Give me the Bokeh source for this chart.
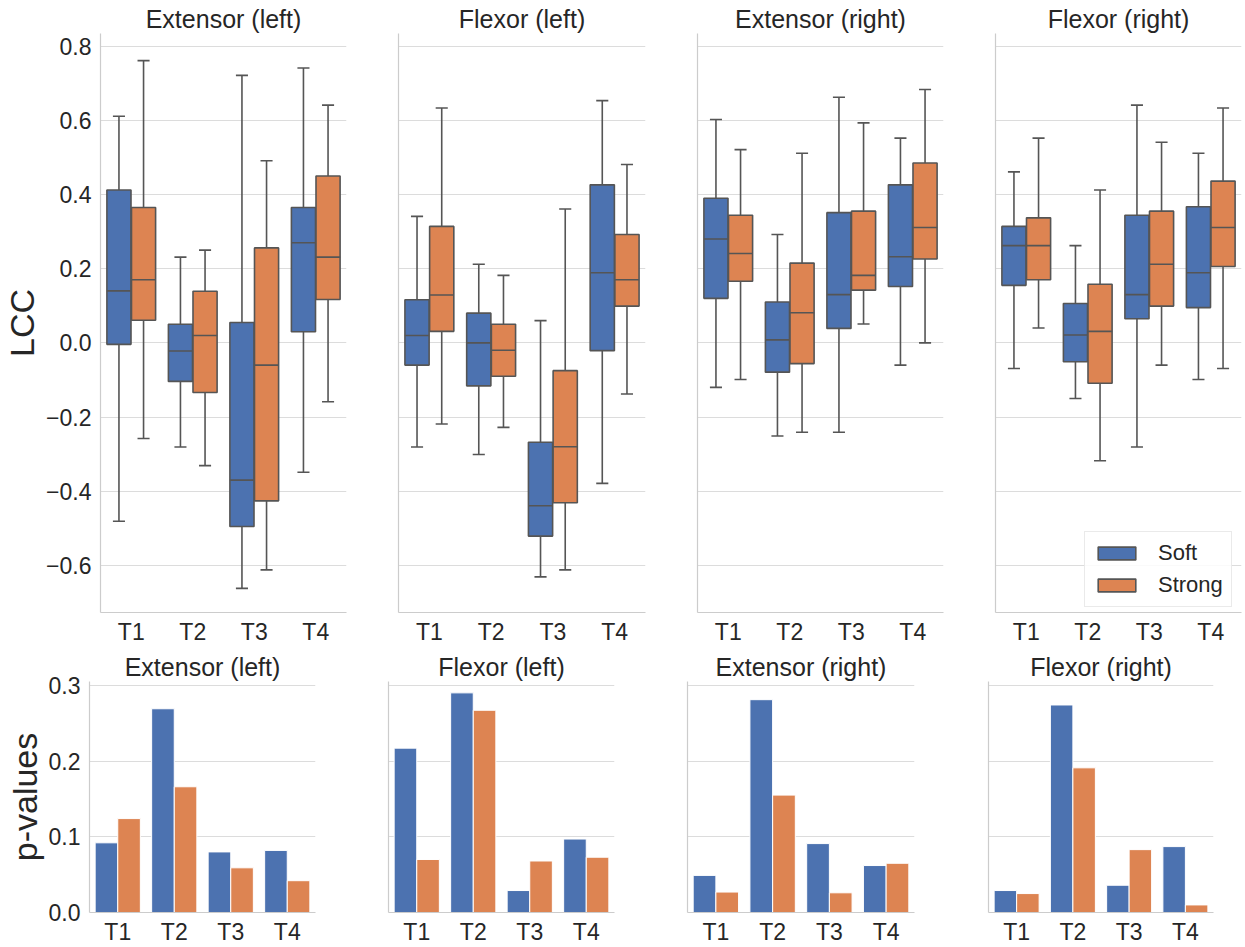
from bokeh.plotting import figure
from bokeh.layouts import column, row
from bokeh.models import (ColumnDataSource, FactorRange, Range1d, FixedTicker,
                          CustomJSTickFormatter, Legend, LegendItem)
from bokeh.transform import dodge
from bokeh.embed import file_html
from bokeh.resources import INLINE

# ---------------------------------------------------------------- data
categories = ["T1", "T2", "T3", "T4"]
muscles = ["Extensor (left)", "Flexor (left)", "Extensor (right)", "Flexor (right)"]
groups = ["Soft", "Strong"]

# box statistics per session: (lower whisker, Q1, median, Q3, upper whisker)
ext_left_soft = [(-0.481, -0.004, 0.140, 0.412, 0.611), (-0.281, -0.104, -0.022, 0.050, 0.231),
                 (-0.662, -0.495, -0.370, 0.055, 0.721), (-0.349, 0.030, 0.270, 0.365, 0.741)]
ext_left_strong = [(-0.258, 0.061, 0.170, 0.365, 0.761), (-0.331, -0.134, 0.020, 0.139, 0.250),
                   (-0.612, -0.426, -0.060, 0.256, 0.491), (-0.159, 0.117, 0.231, 0.450, 0.641)]
flex_left_soft = [(-0.281, -0.060, 0.020, 0.116, 0.341), (-0.301, -0.116, 0.000, 0.080, 0.212),
                  (-0.631, -0.521, -0.439, -0.268, 0.060), (-0.379, -0.021, 0.189, 0.426, 0.653)]
flex_left_strong = [(-0.219, 0.031, 0.129, 0.314, 0.633), (-0.228, -0.090, -0.020, 0.050, 0.182),
                    (-0.612, -0.431, -0.280, -0.075, 0.361), (-0.138, 0.099, 0.170, 0.292, 0.481)]
ext_right_soft = [(-0.120, 0.120, 0.280, 0.390, 0.602), (-0.251, -0.079, 0.008, 0.110, 0.292),
                  (-0.241, 0.039, 0.130, 0.351, 0.662), (-0.060, 0.152, 0.232, 0.426, 0.552)]
ext_right_strong = [(-0.099, 0.166, 0.241, 0.344, 0.521), (-0.241, -0.056, 0.081, 0.215, 0.511),
                    (0.051, 0.142, 0.182, 0.355, 0.593), (0.000, 0.226, 0.311, 0.485, 0.683)]
flex_right_soft = [(-0.069, 0.155, 0.262, 0.314, 0.461), (-0.150, -0.051, 0.021, 0.106, 0.262),
                   (-0.281, 0.065, 0.130, 0.344, 0.641), (-0.099, 0.095, 0.189, 0.367, 0.511)]
flex_right_strong = [(0.040, 0.170, 0.262, 0.337, 0.552), (-0.318, -0.109, 0.031, 0.158, 0.412),
                     (-0.060, 0.099, 0.212, 0.355, 0.541), (-0.069, 0.206, 0.311, 0.436, 0.633)]

# p-values per session
p_ext_left_soft = [0.092, 0.269, 0.080, 0.082]
p_ext_left_strong = [0.124, 0.166, 0.059, 0.042]
p_flex_left_soft = [0.217, 0.290, 0.029, 0.097]
p_flex_left_strong = [0.070, 0.267, 0.068, 0.073]
p_ext_right_soft = [0.049, 0.281, 0.091, 0.062]
p_ext_right_strong = [0.027, 0.155, 0.026, 0.065]
p_flex_right_soft = [0.029, 0.274, 0.036, 0.087]
p_flex_right_strong = [0.025, 0.191, 0.083, 0.010]

lcc_ticks = [-0.6, -0.4, -0.2, 0.0, 0.2, 0.4, 0.6, 0.8]
pval_ticks = [0.0, 0.1, 0.2, 0.3]

box_stats = [(ext_left_soft, ext_left_strong), (flex_left_soft, flex_left_strong),
             (ext_right_soft, ext_right_strong), (flex_right_soft, flex_right_strong)]
pvals = [(p_ext_left_soft, p_ext_left_strong), (p_flex_left_soft, p_flex_left_strong),
         (p_ext_right_soft, p_ext_right_strong), (p_flex_right_soft, p_flex_right_strong)]

# ---------------------------------------------------------------- style
FONT = "Liberation Sans"
TEXT = "#262626"
COLORS = ["#4c72b0", "#dd8452"]
BOX_LINE = "#555555"
SPINE = "#cccccc"
GRID = "#dcdcdc"

NUM_FMT = CustomJSTickFormatter(
    code="return (tick < -1e-9 ? '\u2212' : '') + Math.abs(tick).toFixed(1);")
NO_FMT = CustomJSTickFormatter(code="return '';")

# frame geometry for each column (border_left, border_right, total width)
TOP_COLS = [(99, 26, 372), (26, 26, 299), (26, 26, 298), (26, 4, 276)]
BOT_COLS = [(89, 37, 352), (36, 37, 299), (36, 37, 300), (37, 32, 294)]


def base_figure(title, y_range, ticks, col, height, top, bottom, first, ylabel):
    left, right, width = col
    p = figure(x_range=FactorRange(*categories), y_range=y_range,
               width=width, height=height,
               min_border_left=left, min_border_right=right,
               min_border_top=top, min_border_bottom=bottom,
               output_backend="svg", toolbar_location=None, title=title)
    p.outline_line_color = None
    p.background_fill_color = "white"
    p.border_fill_color = "white"

    p.title.text_font = FONT
    p.title.text_font_size = "25px"
    p.title.text_font_style = "normal"
    p.title.text_color = TEXT
    p.title.align = "center"
    p.title.standoff = 1

    ticker = FixedTicker(ticks=ticks)
    p.yaxis.ticker = ticker
    p.ygrid.ticker = ticker
    p.yaxis.formatter = NUM_FMT if first else NO_FMT
    p.xgrid.grid_line_color = None
    p.ygrid.grid_line_color = GRID
    p.ygrid.grid_line_width = 1

    for ax in (p.xaxis, p.yaxis):
        ax.axis_line_color = SPINE
        ax.axis_line_width = 1.2
        ax.major_tick_line_color = None
        ax.minor_tick_line_color = None
        ax.major_tick_out = 0
        ax.major_tick_in = 0
        ax.minor_tick_out = 0
        ax.minor_tick_in = 0
        ax.major_label_text_font = FONT
        ax.major_label_text_font_size = "23px"
        ax.major_label_text_color = TEXT
    p.xaxis.major_label_standoff = 6
    p.yaxis.major_label_standoff = 9
    if first:
        p.yaxis.axis_label = ylabel
        p.yaxis.axis_label_text_font = FONT
        p.yaxis.axis_label_text_font_size = "34px"
        p.yaxis.axis_label_text_font_style = "normal"
        p.yaxis.axis_label_text_color = TEXT
        p.yaxis.axis_label_standoff = 2
    return p


BOX_W = 0.392
CAP_HALF = 0.098


def box_panel(i):
    soft, strong = box_stats[i]
    p = base_figure(muscles[i], Range1d(-0.727, 0.834), lcc_ticks, TOP_COLS[i],
                    647, 33, 32, i == 0, "LCC")
    renderers = []
    for stats, off, color in ((soft, -0.2, COLORS[0]), (strong, 0.2, COLORS[1])):
        src = ColumnDataSource(dict(
            cat=categories,
            lo=[s[0] for s in stats], q1=[s[1] for s in stats], med=[s[2] for s in stats],
            q3=[s[3] for s in stats], hi=[s[4] for s in stats]))
        xc = dodge("cat", off, range=p.x_range)
        xl = dodge("cat", off - CAP_HALF, range=p.x_range)
        xr = dodge("cat", off + CAP_HALF, range=p.x_range)
        line = dict(line_color=BOX_LINE, line_width=1.6, source=src)
        p.segment(x0=xc, y0="lo", x1=xc, y1="q1", **line)
        p.segment(x0=xc, y0="q3", x1=xc, y1="hi", **line)
        p.segment(x0=xl, y0="lo", x1=xr, y1="lo", **line)
        p.segment(x0=xl, y0="hi", x1=xr, y1="hi", **line)
        r = p.vbar(x=xc, bottom="q1", top="q3", width=BOX_W, fill_color=color, **line)
        p.segment(x0=dodge("cat", off - BOX_W / 2, range=p.x_range), y0="med",
                  x1=dodge("cat", off + BOX_W / 2, range=p.x_range), y1="med", **line)
        renderers.append(r)
    return p, renderers


def bar_panel(i):
    soft, strong = pvals[i]
    p = base_figure(muscles[i], Range1d(0, 0.305), pval_ticks, BOT_COLS[i],
                    300, 34, 31, i == 0, "p-values")
    src = ColumnDataSource(dict(cat=categories, soft=soft, strong=strong))
    for key, off, color in (("soft", -0.2, COLORS[0]), ("strong", 0.2, COLORS[1])):
        p.vbar(x=dodge("cat", off, range=p.x_range), top=key, bottom=0, width=0.4,
               fill_color=color, line_color="white", line_width=1, source=src)
    return p


top_row = []
for i in range(4):
    p, rends = box_panel(i)
    if i == 3:
        legend = Legend(items=[LegendItem(label=groups[0], renderers=[rends[0]]),
                               LegendItem(label=groups[1], renderers=[rends[1]])],
                        location=(89, 5))
        legend.label_text_font = FONT
        legend.label_text_font_size = "22px"
        legend.label_text_color = TEXT
        legend.glyph_width = 47
        legend.glyph_height = 16
        legend.label_standoff = 18
        legend.spacing = 6
        legend.padding = 8
        legend.margin = 0
        legend.border_line_color = "#d6d6d6"
        legend.border_line_width = 1
        legend.background_fill_alpha = 0.85
        p.add_layout(legend)
    top_row.append(p)

bottom_row = [bar_panel(i) for i in range(4)]

layout = column(row(*top_row, spacing=0), row(*bottom_row, spacing=0), spacing=0)

with open("out.html", "w") as f:
    f.write(file_html(layout, INLINE))
